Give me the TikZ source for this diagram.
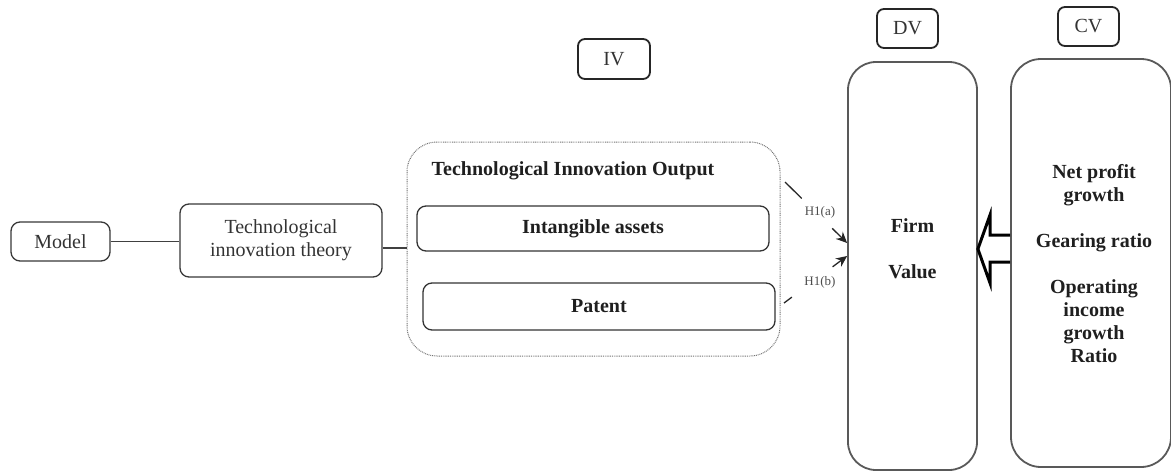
\documentclass[tikz,border=0pt]{standalone}
\usepackage{fontspec}
\setmainfont{Liberation Serif}
\usetikzlibrary{arrows.meta}
\begin{document}
\begin{tikzpicture}[x=1pt,y=-1pt,
  txt/.style={font=\fontsize{20}{23}\selectfont, text=black!80, align=center, inner sep=0pt},
  btxt/.style={font=\fontsize{20}{23}\selectfont\bfseries, text=black!88, align=center, inner sep=0pt},
  box/.style={txt, draw=black!78, line width=1.3pt, rounded corners=9pt},
  tag/.style={txt, draw=black!85, line width=1.8pt, rounded corners=7pt},
  item/.style={btxt, draw=black!80, line width=1.3pt, rounded corners=9pt},
  tall/.style={draw=black!65, line width=1.8pt, rounded corners=28pt, inner sep=0pt},
  group/.style={draw=black!55, line width=1pt, dash pattern=on 0.9pt off 0.9pt, rounded corners=30pt, inner sep=0pt},
  link/.style={draw=black!75, line width=1.3pt},
  hyp/.style={draw=black!85, line width=1.3pt},
  hypa/.style={hyp, -{Stealth[length=11pt,width=10pt]}},
  lbl/.style={font=\fontsize{13}{15}\selectfont, text=black!70, inner sep=0pt},
  hollow/.style={draw=black, line width=3pt, line join=miter}
]
\useasboundingbox (0,0) rectangle (1171,471);

% variable tags
\node[tag, minimum width=72, minimum height=40] (iv) at (614,59) {IV};
\node[tag, minimum width=61, minimum height=39] (dv) at (907.5,28.5) {DV};
\node[tag, minimum width=61, minimum height=39] (cv) at (1088.5,26.5) {CV};

% left chain
\node[box, minimum width=99, minimum height=39] (model) at (60.5,241.5) {Model};
\node[box, minimum width=202, minimum height=73] (theory) at (281,240.5) {Technological\\innovation theory};

% group
\node[group, minimum width=373, minimum height=214] (outer) at (593.5,249) {};
\node[btxt] (title) at (573,171) {Technological Innovation Output};
\node[item, minimum width=352, minimum height=45] (intang) at (593,228.5) {Intangible assets};
\node[item, minimum width=352, minimum height=47] (patent) at (599,306.5) {Patent};

% tall boxes
\node[tall, minimum width=129, minimum height=408] (firm) at (912.5,266) {};
\node[btxt] (firmtxt) at (912.5,249) {Firm\\[23pt]Value};
\node[tall, minimum width=160, minimum height=408, rounded corners=30pt] (cvbox) at (1091,263) {};
\node[btxt] (cvtxt) at (1094,264) {Net profit\\growth\\[23pt]Gearing ratio\\[23pt]Operating\\income\\growth\\Ratio};

% connectors
\draw[link] (model.east) -- (model.east -| theory.west);
\draw[link] ([yshift=-7.5pt]theory.east) -- ([yshift=-7.5pt]theory.east -| outer.west);

% hypotheses
\coordinate (a0) at (785,182);
\coordinate (a1) at (firm.west |- 0,243);
\path (a0) -- coordinate[pos=0.27] (a0e) coordinate[pos=0.76] (a1s) (a1);
\draw[hyp] (a0) -- (a0e);
\draw[hypa] (a1s) -- (a1);
\node[lbl] (ha) at (820,212) {H1(a)};

\coordinate (b0) at (784,303);
\coordinate (b1) at (firm.west |- 0,256);
\path (b0) -- coordinate[pos=0.125] (b0e) coordinate[pos=0.77] (b1s) (b1);
\draw[hyp] (b0) -- (b0e);
\draw[hypa] (b1s) -- (b1);
\node[lbl] (hb) at (820,282) {H1(b)};

% hollow arrow from CV box to firm box
\draw[hollow] (cvbox.west |- 0,235) -- (990,235) -- (990,215) -- (firm.east |- 0,249) -- (990,283) -- (990,262) -- (cvbox.west |- 0,262);
\end{tikzpicture}
\end{document}
